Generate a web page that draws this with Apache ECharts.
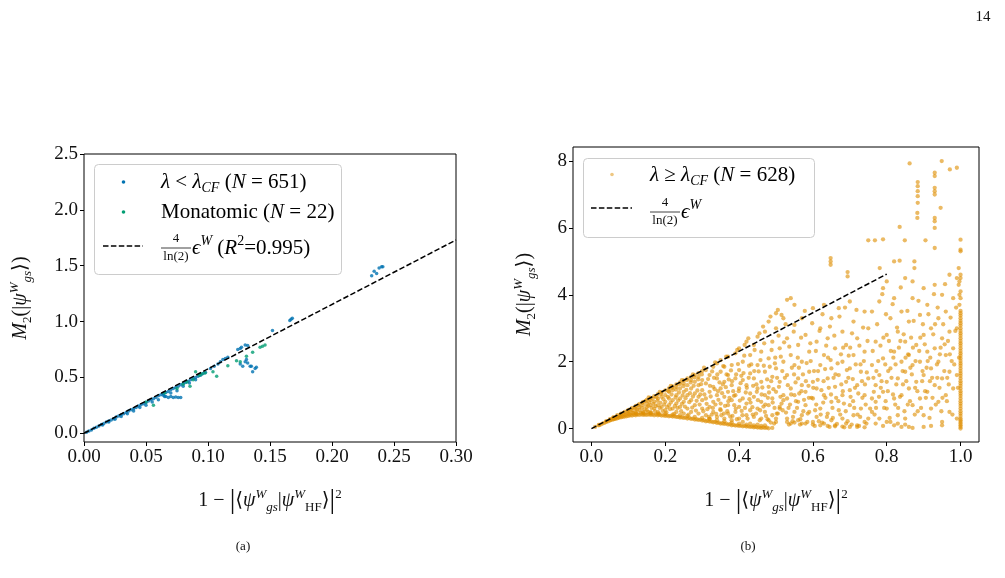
<!DOCTYPE html>
<html lang="en">
<head>
<meta charset="UTF-8">
<title>M2 vs overlap</title>
<script src="https://cdn.jsdelivr.net/npm/echarts/dist/echarts.min.js"></script>
<style>
  html, body { margin: 0; padding: 0; background: #fff; }
  #main { width: 1005px; height: 578px; }
</style>
</head>
<body>
<div id="main"></div>
<script type="text/javascript">
// ---- data ----
var blueLeft = [
  [0.002,0.01],[0.004,0.02],[0.006,0.03],[0.008,0.045],[0.01,0.055],[0.012,0.065],[0.014,0.078],[0.016,0.088],
  [0.018,0.1],[0.02,0.11],[0.022,0.12],[0.024,0.13],[0.026,0.145],[0.028,0.155],[0.03,0.165],[0.032,0.175],
  [0.034,0.185],[0.036,0.2],[0.038,0.21],[0.04,0.22],[0.042,0.23],[0.044,0.245],[0.046,0.255],[0.048,0.265],
  [0.05,0.275],[0.052,0.29],[0.054,0.3],[0.056,0.31],[0.058,0.32],[0.06,0.335],[0.062,0.345],[0.064,0.355],
  [0.066,0.365],[0.068,0.375],[0.07,0.39],[0.072,0.4],[0.074,0.41],[0.076,0.42],[0.078,0.435],[0.08,0.445],
  [0.082,0.455],[0.084,0.465],[0.086,0.48],[0.088,0.49],[0.09,0.5],[0.092,0.51],[0.094,0.52],[0.096,0.535],
  [0.098,0.545],[0.015,0.075],[0.02,0.1],[0.025,0.125],[0.03,0.15],[0.035,0.175],[0.04,0.2],[0.045,0.23],
  [0.05,0.25],[0.055,0.28],[0.06,0.3],[0.065,0.33],[0.07,0.36],[0.075,0.38],[0.08,0.42],[0.085,0.45],[0.09,0.48],
  [0.066,0.33],[0.068,0.32],[0.07,0.33],[0.072,0.32],[0.074,0.325],[0.076,0.32],[0.078,0.32],[0.064,0.34],
  [0.102,0.58],[0.105,0.6],[0.108,0.62],[0.11,0.64],[0.112,0.66],[0.114,0.67],[0.116,0.68],
  [0.124,0.75],[0.127,0.77],[0.13,0.79],[0.132,0.785],[0.126,0.76],
  [0.126,0.62],[0.128,0.6],[0.13,0.64],[0.132,0.63],[0.134,0.6],[0.131,0.66],
  [0.135,0.6],[0.138,0.58],[0.136,0.55],[0.139,0.59],
  [0.152,0.92],[0.166,1.01],[0.168,1.03],[0.167,1.02],
  [0.232,1.41],[0.234,1.45],[0.236,1.43],[0.238,1.48],[0.24,1.49],[0.241,1.49]
];
var greenLeft = [
  [0.05,0.28],[0.056,0.25],[0.065,0.36],[0.075,0.4],[0.08,0.44],[0.083,0.46],[0.0855,0.42],[0.088,0.48],
  [0.09,0.55],[0.093,0.52],[0.095,0.53],[0.0976,0.54],[0.104,0.55],[0.107,0.51],[0.116,0.605],[0.123,0.65],
  [0.126,0.64],[0.131,0.69],[0.136,0.725],[0.142,0.77],[0.146,0.79],[0.144,0.78]
];
var orangeRight = [
  // lower band
  [0.01,0.05],[0.02,0.1],[0.03,0.15],[0.04,0.2],[0.05,0.24],[0.06,0.28],[0.07,0.31],[0.08,0.34],[0.09,0.36],
  [0.10,0.38],[0.11,0.39],[0.12,0.4],[0.13,0.41],[0.14,0.41],[0.15,0.41],[0.16,0.41],[0.17,0.4],[0.18,0.4],
  [0.19,0.39],[0.20,0.38],[0.21,0.37],[0.22,0.36],[0.23,0.35],[0.24,0.33],[0.25,0.32],[0.26,0.3],[0.27,0.29],
  [0.28,0.27],[0.29,0.26],[0.30,0.24],[0.31,0.22],[0.32,0.21],[0.33,0.19],[0.34,0.17],[0.35,0.15],[0.36,0.14],
  [0.37,0.12],[0.38,0.1],[0.39,0.09],[0.40,0.08],[0.41,0.07],[0.42,0.06],[0.43,0.05],[0.44,0.04],[0.45,0.03],
  [0.46,0.02],[0.47,0.02],[0.48,0.01],[0.49,0.02],
  [0.025,0.12],[0.035,0.17],[0.045,0.22],[0.055,0.26],[0.065,0.29],[0.075,0.33],[0.085,0.35],[0.095,0.37],
  [0.105,0.4],[0.115,0.41],[0.125,0.42],[0.135,0.43],[0.145,0.42],[0.155,0.43],[0.165,0.42],[0.175,0.42],
  [0.185,0.41],[0.195,0.4],[0.205,0.39],[0.215,0.38],[0.225,0.37],[0.235,0.35],[0.245,0.34],[0.255,0.33],
  [0.265,0.32],[0.275,0.3],[0.285,0.28],[0.295,0.27],[0.305,0.25],[0.315,0.23],[0.325,0.21],[0.335,0.2],
  [0.345,0.18],[0.355,0.16],[0.365,0.15],[0.375,0.13],[0.385,0.11],[0.395,0.1],[0.405,0.09],[0.415,0.08],
  [0.425,0.07],[0.435,0.06],[0.445,0.05],[0.455,0.04],[0.465,0.04],[0.475,0.03],
  [0.12,0.46],[0.14,0.47],[0.16,0.46],[0.18,0.45],[0.2,0.44],[0.22,0.42],[0.24,0.4],[0.26,0.38],[0.28,0.35],
  [0.3,0.32],[0.32,0.29],[0.34,0.25],[0.36,0.22],[0.38,0.18],[0.4,0.15],[0.42,0.12],[0.44,0.1],[0.46,0.08],
  [0.495,0.15],[0.5,0.3],[0.505,0.45],[0.51,0.6],[0.515,0.75],[0.52,0.85],
  [0.53,0.2],[0.55,0.18],[0.57,0.15],[0.6,0.12],[0.62,0.1],[0.64,0.08],[0.66,0.07],[0.68,0.06],[0.7,0.05],
  [0.72,0.05],[0.74,0.04],[0.75,0.3],[0.755,0.6],[0.76,0.9],[0.765,1.1],
  [0.535,0.12],[0.545,0.22],[0.565,0.12],[0.585,0.2],[0.605,0.08],[0.625,0.18],[0.645,0.05],[0.665,0.14],
  [0.685,0.04],[0.705,0.12],[0.725,0.08],[0.745,0.15],[0.77,0.15],[0.79,0.08],[0.8,0.2],
  [0.81,0.2],[0.82,0.1],[0.83,0.15],[0.84,0.05],[0.85,0.12],[0.86,0.05],[0.87,0.02],[0.9,0.05],[0.92,0.08],[0.95,0.1],
  // along the fit line
  [0.02,0.11],[0.04,0.22],[0.05,0.28],[0.06,0.34],[0.07,0.4],[0.08,0.45],[0.09,0.5],[0.1,0.56],[0.11,0.62],
  [0.12,0.68],[0.13,0.74],[0.14,0.8],[0.15,0.86],[0.16,0.92],[0.17,0.97],[0.18,1.03],[0.19,1.08],[0.2,1.14],
  [0.21,1.2],[0.22,1.26],[0.23,1.32],[0.24,1.38],[0.25,1.44],[0.26,1.5],[0.27,1.55],[0.28,1.6],[0.29,1.66],[0.3,1.72],
  [0.155,0.93],[0.185,1.1],[0.215,1.28],[0.245,1.45],[0.275,1.62],[0.305,1.82],[0.335,1.98],[0.365,2.15],
  [0.395,2.35],[0.415,2.5],[0.425,2.7],[0.455,2.85],[0.465,3.05],[0.485,3.35],[0.505,3.55],[0.515,3.4],
  // wedge interior
  [0.06,0.3],[0.07,0.36],[0.08,0.4],[0.09,0.42],[0.1,0.45],[0.1,0.5],[0.11,0.48],[0.11,0.55],[0.12,0.5],[0.12,0.6],
  [0.13,0.55],[0.13,0.65],[0.14,0.5],[0.14,0.7],[0.15,0.55],[0.15,0.65],[0.15,0.75],[0.16,0.5],[0.16,0.7],[0.16,0.85],
  [0.17,0.6],[0.17,0.8],[0.18,0.5],[0.18,0.7],[0.18,0.9],[0.19,0.65],[0.19,0.95],[0.2,0.55],[0.2,0.8],[0.2,1.0],
  [0.21,0.7],[0.21,0.9],[0.21,1.1],[0.22,0.6],[0.22,0.85],[0.22,1.15],[0.23,0.5],[0.23,0.75],[0.23,1.0],[0.23,1.25],
  [0.24,0.65],[0.24,0.9],[0.24,1.2],[0.25,0.45],[0.25,0.8],[0.25,1.1],[0.25,1.35],[0.26,0.6],[0.26,1.0],[0.26,1.3],
  [0.27,0.5],[0.27,0.85],[0.27,1.2],[0.27,1.45],[0.28,0.7],[0.28,1.05],[0.28,1.4],[0.29,0.45],[0.29,0.95],[0.29,1.3],
  [0.29,1.55],[0.3,0.6],[0.3,0.85],[0.3,1.15],[0.3,1.45],
  [0.052,0.27],[0.058,0.31],[0.063,0.3],[0.067,0.35],[0.073,0.33],[0.078,0.41],[0.083,0.37],[0.087,0.47],
  [0.093,0.41],[0.097,0.52],[0.103,0.43],[0.106,0.57],[0.113,0.46],[0.117,0.63],[0.122,0.44],[0.124,0.57],
  [0.127,0.7],[0.133,0.48],[0.136,0.62],[0.138,0.77],[0.142,0.45],[0.144,0.58],[0.147,0.83],[0.152,0.5],
  [0.154,0.68],[0.157,0.79],[0.161,0.46],[0.163,0.62],[0.166,0.9],[0.168,0.74],[0.172,0.52],[0.174,0.67],
  [0.176,0.94],[0.179,0.83],[0.183,0.45],[0.185,0.62],[0.187,0.77],[0.189,1.04],[0.193,0.53],[0.195,0.88],
  [0.197,0.72],[0.203,0.48],[0.205,0.64],[0.207,0.95],[0.209,1.12],[0.213,0.58],[0.215,0.78],[0.217,1.02],
  [0.219,1.22],[0.224,0.44],[0.226,0.68],[0.228,0.93],[0.229,1.17],[0.233,0.62],[0.235,0.84],[0.237,1.08],
  [0.239,1.33],[0.243,0.52],[0.245,0.74],[0.247,0.99],[0.249,1.27],[0.253,0.66],[0.255,0.91],[0.257,1.16],
  [0.259,1.45],[0.263,0.42],[0.265,0.79],[0.267,1.06],[0.269,1.38],[0.273,0.63],[0.275,0.96],[0.277,1.28],
  [0.279,1.53],[0.283,0.54],[0.285,0.83],[0.287,1.14],[0.289,1.47],[0.293,0.72],[0.295,1.02],[0.297,1.33],[0.299,1.62],
  // 0.3 - 0.55
  [0.31,0.4],[0.31,0.9],[0.31,1.35],[0.31,1.75],[0.32,0.3],[0.32,0.65],[0.32,1.1],[0.32,1.6],[0.33,0.5],[0.33,0.8],
  [0.33,1.25],[0.33,1.85],[0.34,0.35],[0.34,1.0],[0.34,1.5],[0.34,1.95],[0.35,0.55],[0.35,0.75],[0.35,1.2],[0.35,1.7],
  [0.35,2.05],[0.36,0.3],[0.36,0.95],[0.36,1.4],[0.36,1.85],[0.37,0.45],[0.37,0.7],[0.37,1.1],[0.37,1.6],[0.37,2.15],
  [0.38,0.25],[0.38,0.85],[0.38,1.3],[0.38,1.9],[0.39,0.5],[0.39,1.0],[0.39,1.5],[0.39,2.25],[0.4,0.3],[0.4,0.65],
  [0.4,1.2],[0.4,1.75],[0.4,2.4],[0.41,0.2],[0.41,0.9],[0.41,1.45],[0.41,2.0],[0.42,0.4],[0.42,0.75],[0.42,1.3],
  [0.42,2.6],[0.43,0.15],[0.43,0.55],[0.43,1.05],[0.43,1.65],[0.43,2.2],[0.44,0.35],[0.44,0.95],[0.44,1.5],[0.44,2.5],
  [0.45,0.12],[0.45,0.6],[0.45,1.2],[0.45,1.9],[0.45,2.75],[0.46,0.3],[0.46,0.8],[0.46,1.4],[0.46,2.3],[0.47,0.1],
  [0.47,0.5],[0.47,1.0],[0.47,1.7],[0.47,2.9],[0.48,0.25],[0.48,0.7],[0.48,1.25],[0.48,2.1],[0.48,3.2],[0.49,0.4],
  [0.49,0.9],[0.49,1.55],[0.49,2.6],[0.5,0.2],[0.5,1.1],[0.5,1.8],[0.5,3.0],[0.5,3.45],[0.51,0.65],[0.51,1.4],
  [0.51,2.4],[0.52,1.0],[0.52,2.0],[0.52,3.3],[0.53,3.85],[0.54,3.9],[0.55,3.7],
  [0.303,0.52],[0.306,1.02],[0.312,0.74],[0.316,1.48],[0.318,0.35],[0.323,0.96],[0.327,1.71],[0.329,0.62],
  [0.334,1.18],[0.338,0.44],[0.341,1.62],[0.344,0.86],[0.347,1.38],[0.352,0.4],[0.354,1.06],[0.357,1.87],
  [0.362,0.68],[0.364,1.24],[0.368,0.52],[0.372,1.47],[0.374,0.92],[0.378,1.74],[0.382,0.38],[0.384,1.12],
  [0.387,0.7],[0.392,1.62],[0.394,0.28],[0.397,1.93],[0.402,0.84],[0.404,1.36],[0.407,0.53],[0.412,1.66],
  [0.414,2.18],[0.418,1.08],[0.423,0.3],[0.426,1.52],[0.428,0.88],[0.433,1.92],[0.436,0.64],[0.438,1.28],
  [0.442,2.35],[0.446,0.45],[0.448,1.1],[0.453,1.71],[0.456,0.25],[0.458,2.05],[0.463,1.23],[0.466,0.66],
  [0.468,2.55],[0.473,0.38],[0.476,1.47],[0.478,0.92],[0.483,1.85],[0.486,0.18],[0.488,2.35],[0.493,1.18],
  [0.496,0.62],[0.498,2.12],[0.503,1.52],[0.507,2.78],[0.512,0.95],[0.517,1.72],[0.522,2.58],[0.526,3.12],
  [0.314,0.58],[0.321,1.28],[0.326,0.42],[0.332,1.52],[0.336,0.72],[0.343,1.12],[0.349,0.58],[0.356,1.32],
  [0.359,0.45],[0.366,1.62],[0.371,0.82],[0.376,0.36],[0.381,1.42],[0.386,0.98],[0.391,0.6],[0.399,1.12],
  [0.406,1.58],[0.409,0.4],[0.416,0.62],[0.421,1.22],[0.427,1.88],[0.431,0.78],[0.437,0.42],[0.441,1.72],
  [0.447,1.32],[0.451,0.85],[0.457,0.55],[0.461,1.02],[0.467,1.88],[0.471,0.72],[0.477,0.28],[0.481,1.08],
  [0.487,1.42],[0.491,0.78],[0.497,1.95],[0.502,0.45],[0.508,1.25],[0.513,2.15],[0.518,0.55],[0.524,1.52],
  // 0.53 - 0.75
  [0.53,0.3],[0.53,0.9],[0.53,1.6],[0.53,2.7],[0.54,0.15],[0.54,1.2],[0.54,2.2],[0.55,0.5],[0.55,1.0],[0.55,1.9],
  [0.55,3.1],[0.56,0.25],[0.56,0.8],[0.56,1.5],[0.56,2.5],[0.57,0.4],[0.57,1.3],[0.57,2.0],[0.57,3.3],[0.58,0.15],
  [0.58,0.7],[0.58,1.1],[0.58,2.8],[0.59,0.5],[0.59,1.7],[0.59,2.3],[0.6,0.2],[0.6,0.9],[0.6,1.4],[0.6,3.6],
  [0.61,0.35],[0.61,1.2],[0.61,2.6],[0.62,0.6],[0.62,1.9],[0.62,3.0],[0.63,0.15],[0.63,1.0],[0.63,2.2],[0.63,3.7],
  [0.64,0.45],[0.64,1.5],[0.64,2.7],[0.65,0.25],[0.65,0.8],[0.65,1.8],[0.65,3.3],[0.66,0.1],[0.66,1.25],[0.66,2.4],
  [0.648,4.9],[0.648,5.0],[0.648,5.1],[0.67,0.55],[0.67,1.6],[0.67,3.6],[0.68,0.3],[0.68,1.0],[0.68,2.0],[0.68,2.9],
  [0.69,0.15],[0.69,1.4],[0.69,2.5],[0.7,0.7],[0.7,1.15],[0.7,1.8],[0.7,3.8],[0.71,0.4],[0.71,2.2],[0.71,3.2],
  [0.72,0.1],[0.72,1.3],[0.72,2.7],[0.73,0.6],[0.73,1.7],[0.694,4.68],[0.694,4.55],[0.74,0.2],[0.74,1.0],[0.74,2.3],
  [0.74,3.5],[0.75,1.5],[0.75,3.0],[0.75,5.63],
  [0.527,0.48],[0.532,1.3],[0.536,2.45],[0.538,0.72],[0.543,1.82],[0.546,0.35],[0.548,2.9],[0.553,1.38],
  [0.557,0.62],[0.559,2.12],[0.563,1.05],[0.566,0.28],[0.568,2.72],[0.573,1.62],[0.576,0.86],[0.578,3.52],
  [0.583,1.96],[0.586,0.45],[0.588,1.28],[0.593,2.55],[0.596,0.92],[0.598,3.15],[0.603,1.72],[0.606,0.55],
  [0.608,2.32],[0.613,1.46],[0.616,0.22],[0.618,2.92],[0.623,1.15],[0.626,3.42],[0.628,0.78],[0.633,1.78],
  [0.636,2.48],[0.638,0.35],[0.643,1.22],[0.646,3.05],[0.648,2.05],[0.653,0.62],[0.656,1.52],[0.658,2.78],
  [0.663,0.92],[0.667,1.95],[0.672,3.35],[0.674,0.42],[0.677,1.32],[0.682,2.42],[0.684,0.75],[0.687,3.62],
  [0.692,1.75],[0.694,0.22],[0.697,2.18],[0.702,0.95],[0.706,2.85],[0.708,1.48],[0.712,0.62],[0.716,1.92],
  [0.718,3.55],[0.723,1.05],[0.726,2.48],[0.728,0.35],[0.733,1.42],[0.736,3.02],[0.738,2.02],[0.743,0.72],
  [0.746,1.68],[0.748,2.62],
  [0.534,0.62],[0.541,1.02],[0.549,1.62],[0.554,0.82],[0.562,1.82],[0.569,1.12],[0.574,0.52],[0.581,1.42],
  [0.589,0.92],[0.594,2.02],[0.601,1.22],[0.609,0.72],[0.614,1.72],[0.621,0.42],[0.629,1.42],[0.634,0.92],
  [0.641,2.12],[0.649,1.02],[0.654,0.32],[0.661,1.62],[0.669,0.82],[0.676,2.22],[0.681,1.12],[0.689,0.52],
  [0.696,1.52],[0.701,2.42],[0.709,0.82],[0.714,1.22],[0.721,0.42],[0.729,1.92],[0.734,0.92],[0.741,1.32],
  // 0.76 - 0.99
  [0.76,0.5],[0.76,1.9],[0.76,3.5],[0.77,0.8],[0.77,1.3],[0.77,2.6],[0.78,0.3],[0.78,1.6],[0.78,3.8],[0.768,5.63],
  [0.79,1.1],[0.79,2.1],[0.79,4.2],[0.8,0.6],[0.8,1.4],[0.8,2.8],[0.8,4.4],[0.81,1.8],[0.81,3.3],[0.79,5.66],
  [0.82,0.9],[0.82,2.3],[0.82,3.9],[0.83,0.4],[0.83,1.5],[0.83,2.9],[0.82,5.0],[0.835,5.02],[0.84,1.0],[0.84,2.0],
  [0.84,3.5],[0.835,6.03],[0.85,0.3],[0.85,1.7],[0.85,2.6],[0.85,4.5],[0.86,1.2],[0.86,2.2],[0.86,3.2],[0.862,7.93],
  [0.87,0.7],[0.87,1.9],[0.87,3.9],[0.87,4.4],[0.88,1.4],[0.88,2.5],[0.883,6.3],[0.883,6.45],[0.89,0.9],[0.89,2.0],
  [0.89,3.4],[0.884,6.75],[0.884,6.95],[0.884,7.1],[0.884,7.25],[0.884,7.37],[0.9,0.4],[0.9,1.6],[0.9,2.8],[0.9,4.2],
  [0.91,1.1],[0.91,2.3],[0.91,3.7],[0.92,0.6],[0.92,1.8],[0.92,3.0],[0.905,5.63],[0.93,1.3],[0.93,2.4],[0.93,4.3],
  [0.93,6.0],[0.93,6.2],[0.93,6.3],[0.93,7.0],[0.93,7.1],[0.93,7.2],[0.93,7.55],[0.93,7.65],[0.946,6.6],[0.94,0.8],
  [0.94,2.0],[0.94,3.3],[0.93,5.4],[0.95,0.2],[0.95,1.5],[0.95,2.7],[0.95,4.0],[0.949,8.0],[0.96,1.0],[0.96,2.2],
  [0.96,3.5],[0.849,5.63],[0.97,0.5],[0.97,1.7],[0.97,2.9],[0.97,4.6],[0.98,1.2],[0.98,2.4],[0.98,3.9],[0.875,5.0],
  [0.971,7.75],[0.99,7.8],[0.99,0.3],[0.99,1.6],[0.99,3.0],[0.99,4.5],[0.781,4.8],[0.875,4.8],
  [0.762,2.32],[0.767,0.42],[0.772,1.72],[0.774,3.12],[0.779,0.95],[0.783,2.48],[0.786,1.42],[0.788,4.02],
  [0.793,0.62],[0.796,1.92],[0.798,3.42],[0.803,1.12],[0.806,2.62],[0.808,0.32],[0.813,1.52],[0.816,3.72],
  [0.818,2.12],[0.823,0.72],[0.826,1.32],[0.828,3.02],[0.833,2.42],[0.836,0.95],[0.838,4.22],[0.843,1.72],
  [0.846,2.82],[0.848,0.52],[0.853,1.42],[0.856,3.52],[0.858,2.22],[0.863,0.82],[0.866,2.72],[0.868,1.62],
  [0.873,3.22],[0.876,0.42],[0.878,2.02],[0.883,1.12],[0.886,3.82],[0.888,2.32],[0.893,0.62],[0.896,1.42],
  [0.898,3.12],[0.903,2.52],[0.906,0.92],[0.908,1.82],[0.913,3.42],[0.916,0.32],[0.918,2.12],[0.923,1.52],
  [0.926,2.82],[0.928,4.02],[0.933,0.72],[0.936,1.92],[0.938,3.62],[0.943,1.22],[0.946,2.42],[0.948,0.52],
  [0.953,3.12],[0.956,1.72],[0.958,4.32],[0.963,0.82],[0.966,2.62],[0.968,1.32],[0.973,3.32],[0.976,2.02],
  [0.978,0.42],[0.983,1.92],[0.986,2.92],[0.988,3.62],[0.993,1.22],[0.996,2.12],
  [0.764,1.52],[0.771,0.62],[0.777,2.02],[0.784,1.22],[0.791,2.72],[0.797,0.82],[0.804,1.72],[0.811,2.32],
  [0.817,1.02],[0.824,1.92],[0.831,0.62],[0.837,2.62],[0.844,1.32],[0.851,2.12],[0.857,0.72],[0.864,1.82],
  [0.871,2.42],[0.877,1.22],[0.884,0.52],[0.891,2.72],[0.897,1.72],[0.904,1.12],[0.911,2.02],[0.917,1.42],
  [0.924,0.92],[0.931,3.12],[0.937,1.52],[0.944,2.22],[0.951,0.92],[0.957,2.52],[0.964,1.52],[0.971,2.22],
  // column at 1.0
  [1,0],[1,0.1],[1,0.2],[1,0.3],[1,0.45],[1,0.6],[1,0.75],[1,0.9],[1,1.05],[1,1.2],[1,1.35],[1,1.5],[1,1.65],
  [1,1.8],[1,1.95],[1,2.1],[1,2.25],[1,2.4],[1,2.55],[1,2.7],[1,2.85],[1,3.0],[1,3.15],[1,3.3],[1,3.45],[1,3.9],
  [1,4.1],[1,4.5],[1,4.6],[1,5.3],[1,5.35],[1,5.65],[0.995,4.3],[0.995,4.8],
  [1,0.05],[1,0.15],[1,0.25],[1,0.38],[1,0.52],[1,0.68],[1,0.82],[1,0.98],[1,1.12],[1,1.28],[1,1.42],[1,1.58],
  [1,1.72],[1,1.88],[1,2.02],[1,2.18],[1,2.32],[1,2.48],[1,2.62],[1,2.78],[1,2.92],[1,3.08],[1,3.22],[1,3.38],
  [1,3.52],[0.997,3.7],[0.997,4.0],[0.997,4.4]
];
var fitLeft = [[0, 0], [0.30, 1.73]];
var fitRight = [[0, 0], [0.80, 4.62]];

var leftXTicks = [0, 0.05, 0.10, 0.15, 0.20, 0.25, 0.30];
var leftYTicks = [0, 0.5, 1.0, 1.5, 2.0, 2.5];
var rightXTicks = [0, 0.2, 0.4, 0.6, 0.8, 1.0];
var rightYTicks = [0, 2, 4, 6, 8];

// ---- styling ----
var F = "'Liberation Serif', 'DejaVu Serif', serif";
var BLUE = '#0173b2', GREEN = '#029e73', ORANGE = '#de8f05';

function richSet(size) {
  var s = Math.round(size * 0.66);
  return {
    r:   { fontFamily: F, fontSize: size, color: '#111', lineHeight: size + 6 },
    i:   { fontFamily: F, fontSize: size, color: '#111', fontStyle: 'italic', lineHeight: size + 6 },
    big: { fontFamily: F, fontSize: size + 8, color: '#111', lineHeight: size + 6 },
    sub: { fontFamily: F, fontSize: s, color: '#111', fontStyle: 'italic', verticalAlign: 'bottom', lineHeight: s },
    subr:{ fontFamily: F, fontSize: s, color: '#111', verticalAlign: 'bottom', lineHeight: s },
    sup: { fontFamily: F, fontSize: s, color: '#111', fontStyle: 'italic', verticalAlign: 'top', lineHeight: s },
    supr:{ fontFamily: F, fontSize: s, color: '#111', verticalAlign: 'top', lineHeight: s }
  };
}
var rich = richSet(20);
var richLeg = richSet(21);

var xName = '{r|1 − }{big||}{r|⟨}{i|ψ}{sup|W}{sub|gs}{r||}{i|ψ}{sup|W}{subr|HF}{r|⟩}{big||}{supr|2}';
var yName = '{i|M}{subr|2}{r|(|}{i|ψ}{sup|W}{sub|gs}{r|⟩)}';

function axisCommon(ticks, fmt) {
  return {
    axisLine: { show: false, onZero: false },
    axisTick: { show: true, inside: false, length: 4, customValues: ticks,
      lineStyle: { color: '#000', width: 1 } },
    axisLabel: { customValues: ticks, formatter: fmt, fontFamily: F, fontSize: 19,
      color: '#111', margin: 6 },
    splitLine: { show: false }
  };
}

function mk(base, extra) {
  for (var k in extra) base[k] = extra[k];
  return base;
}

var chart = echarts.init(document.getElementById('main'), null, { renderer: 'canvas' });

var option = {
  animation: false,
  backgroundColor: '#fff',
  grid: [
    { left: 84, top: 154, width: 372, height: 288, show: true, borderColor: '#000', borderWidth: 1, backgroundColor: 'transparent' },
    { left: 573, top: 147, width: 406, height: 295, show: true, borderColor: '#000', borderWidth: 1, backgroundColor: 'transparent' }
  ],
  xAxis: [
    mk(axisCommon(leftXTicks, function (v) { return v.toFixed(2); }), {
      type: 'value', gridIndex: 0, min: 0, max: 0.30,
      name: xName, nameLocation: 'middle', nameGap: 46, nameTextStyle: { rich: rich }
    }),
    mk(axisCommon(rightXTicks, function (v) { return v.toFixed(1); }), {
      type: 'value', gridIndex: 1, min: -0.05, max: 1.05,
      name: xName, nameLocation: 'middle', nameGap: 46, nameTextStyle: { rich: rich }
    })
  ],
  yAxis: [
    mk(axisCommon(leftYTicks, function (v) { return v.toFixed(1); }), {
      type: 'value', gridIndex: 0, min: -0.078, max: 2.5,
      name: yName, nameLocation: 'middle', nameGap: 50, nameTextStyle: { rich: rich }
    }),
    mk(axisCommon(rightYTicks, function (v) { return String(v); }), {
      type: 'value', gridIndex: 1, min: -0.4, max: 8.42,
      name: yName, nameLocation: 'middle', nameGap: 35, nameTextStyle: { rich: rich }
    })
  ],
  series: [
    { type: 'scatter', xAxisIndex: 0, yAxisIndex: 0, data: blueLeft, symbolSize: 3.5,
      itemStyle: { color: BLUE }, z: 2 },
    { type: 'scatter', xAxisIndex: 0, yAxisIndex: 0, data: greenLeft, symbolSize: 3.5,
      itemStyle: { color: GREEN }, z: 2 },
    { type: 'line', xAxisIndex: 0, yAxisIndex: 0, data: fitLeft, showSymbol: false, z: 3,
      lineStyle: { color: '#000', width: 1.5, type: [5.5, 2.4] } },
    { type: 'scatter', xAxisIndex: 1, yAxisIndex: 1, data: orangeRight, symbolSize: 4.3,
      itemStyle: { color: ORANGE, opacity: 0.62 }, z: 2 },
    { type: 'line', xAxisIndex: 1, yAxisIndex: 1, data: fitRight, showSymbol: false, z: 3,
      lineStyle: { color: '#000', width: 1.5, type: [5.5, 2.4] } }
  ],
  graphic: [
    // page number and captions
    { type: 'text', x: 983, y: 17, style: { text: '14', font: "15px " + F, fill: '#111', align: 'center', verticalAlign: 'middle' } },
    { type: 'text', x: 243, y: 547, style: { text: '(a)', font: "13px " + F, fill: '#111', align: 'center', verticalAlign: 'middle' } },
    { type: 'text', x: 748, y: 547, style: { text: '(b)', font: "13px " + F, fill: '#111', align: 'center', verticalAlign: 'middle' } },

    // left legend
    { type: 'rect', z: 100, shape: { x: 94.5, y: 164.5, width: 247, height: 110, r: 4 },
      style: { fill: 'rgba(255,255,255,0.8)', stroke: '#cccccc', lineWidth: 1 } },
    { type: 'circle', z: 101, shape: { cx: 123.5, cy: 182, r: 1.8 }, style: { fill: BLUE } },
    { type: 'text', z: 101, x: 161, y: 182, style: { text: '{i|λ}{r| < }{i|λ}{sub|CF}{r| (}{i|N}{r| = 651)}', rich: richLeg, align: 'left', verticalAlign: 'middle' } },
    { type: 'circle', z: 101, shape: { cx: 123.5, cy: 212, r: 1.8 }, style: { fill: GREEN } },
    { type: 'text', z: 101, x: 161, y: 212, style: { text: '{r|Monatomic (}{i|N}{r| = 22)}', rich: richLeg, align: 'left', verticalAlign: 'middle' } },
    { type: 'line', z: 101, shape: { x1: 103, y1: 246, x2: 143, y2: 246 }, style: { stroke: '#000', lineWidth: 1.5, lineDash: [5.5, 2.4] } },
    { type: 'text', z: 101, x: 176, y: 239, style: { text: '4', font: "13px " + F, fill: '#111', align: 'center', verticalAlign: 'middle' } },
    { type: 'line', z: 101, shape: { x1: 161, y1: 248, x2: 191, y2: 248 }, style: { stroke: '#111', lineWidth: 0.8 } },
    { type: 'text', z: 101, x: 176, y: 257, style: { text: 'ln(2)', font: "13px " + F, fill: '#111', align: 'center', verticalAlign: 'middle' } },
    { type: 'text', z: 101, x: 192, y: 248, style: { text: '{i|ϵ}{sup|W}{r| (}{i|R}{supr|2}{r|=0.995)}', rich: richLeg, align: 'left', verticalAlign: 'middle' } },

    // right legend
    { type: 'rect', z: 100, shape: { x: 583.5, y: 158.5, width: 231, height: 79, r: 4 },
      style: { fill: 'rgba(255,255,255,0.8)', stroke: '#cccccc', lineWidth: 1 } },
    { type: 'circle', z: 101, shape: { cx: 612, cy: 174.5, r: 1.8 }, style: { fill: ORANGE, opacity: 0.5 } },
    { type: 'text', z: 101, x: 650, y: 175, style: { text: '{i|λ}{r| ≥ }{i|λ}{sub|CF}{r| (}{i|N}{r| = 628)}', rich: richLeg, align: 'left', verticalAlign: 'middle' } },
    { type: 'line', z: 101, shape: { x1: 591, y1: 208, x2: 632, y2: 208 }, style: { stroke: '#000', lineWidth: 1.5, lineDash: [5.5, 2.4] } },
    { type: 'text', z: 101, x: 665, y: 203, style: { text: '4', font: "13px " + F, fill: '#111', align: 'center', verticalAlign: 'middle' } },
    { type: 'line', z: 101, shape: { x1: 650, y1: 212, x2: 680, y2: 212 }, style: { stroke: '#111', lineWidth: 0.8 } },
    { type: 'text', z: 101, x: 665, y: 221, style: { text: 'ln(2)', font: "13px " + F, fill: '#111', align: 'center', verticalAlign: 'middle' } },
    { type: 'text', z: 101, x: 681, y: 212, style: { text: '{i|ϵ}{sup|W}', rich: richLeg, align: 'left', verticalAlign: 'middle' } }
  ]
};

chart.setOption(option);
</script>
</body>
</html>
